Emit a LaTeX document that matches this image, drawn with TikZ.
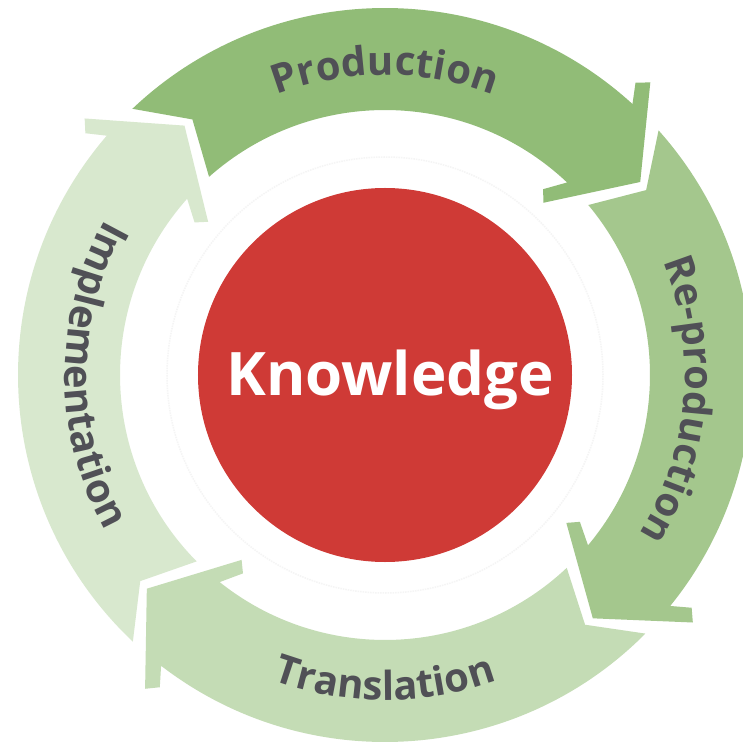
\documentclass[tikz,border=0pt]{standalone}
\usepackage{fontspec}
\setmainfont{Open Sans}
\usetikzlibrary{decorations.text}
\definecolor{ProdGreen}{RGB}{145,188,119}
\definecolor{ReprodGreen}{RGB}{164,199,141}
\definecolor{TransGreen}{RGB}{196,220,181}
\definecolor{ImplGreen}{RGB}{216,232,206}
\definecolor{KnowRed}{RGB}{207,58,54}
\definecolor{LabelGray}{RGB}{80,80,86}
\newcommand\labelfont{\fontsize{40}{40}\selectfont\bfseries}
\tikzset{ringlabel/.style={decorate,decoration={text along path,text align=center,text color=LabelGray}}}
\begin{document}
\begin{tikzpicture}[x=1pt,y=1pt]
\clip (-385,-366) rectangle (358,375);
\fill[white] (-385,-366) rectangle (358,375);
% four arrows of the cycle, head angle / previous head angle / colour
\foreach \h/\p/\c in {47.6/139.3/ProdGreen,-39/47.6/ReprodGreen,232.4/321/TransGreen,139.3/232.4/ImplGreen}{
\pgfmathsetmacro\t{\p-5.8}
\fill[\c] (\t:367) arc[start angle=\t,end angle=\h,radius=367] -- (\h+1.8:385) -- (\h+0.2:395) -- (\h-10.5:320)
  -- (\h-0.2:234) -- (\h+2:244) -- (\h-1:265) arc[start angle=\h-1,end angle=\p-7.7,radius=265] -- (\p-12.3:320) -- cycle;}
\draw[black!4,densely dotted,line width=1.5] (0,0) circle[radius=218];
\fill[KnowRed] (0,0) circle[radius=187];
\node[text=white,font=\fontsize{60}{60}\selectfont\bfseries,anchor=base] (know) at (5,-20) {Knowledge};
% labels along the ring
\path[ringlabel,decoration={text={|\labelfont|Production}}] (170:300) arc[start angle=170,end angle=10,radius=300];
\path[ringlabel,decoration={text={|\labelfont|Re-production}}] (85:300) arc[start angle=85,end angle=-95,radius=300];
\path[ringlabel,decoration={text={|\labelfont|Translation}}] (190:325) arc[start angle=190,end angle=350,radius=325];
\path[ringlabel,decoration={text={|\labelfont|Implementation}}] (100:320) arc[start angle=100,end angle=260,radius=320];
\end{tikzpicture}
\end{document}
